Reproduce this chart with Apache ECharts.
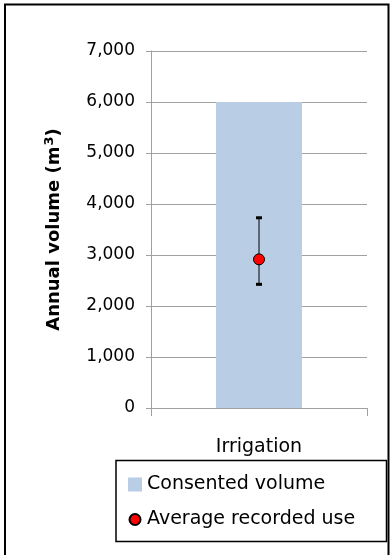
<!DOCTYPE html>
<html>
<head>
<meta charset="utf-8">
<script src="https://cdn.jsdelivr.net/npm/echarts@6/dist/echarts.min.js"></script>
<style>
html,body{margin:0;padding:0;background:#fff;}
#chart{width:392px;height:555px;}
</style>
</head>
<body>
<div id="chart"></div>
<script>
const categories = ['Irrigation'];
const consentedVolume = [6000];
const averageRecordedUse = [2915];
const recordedUseLow = [2425];
const recordedUseHigh = [3730];
const yTickValues = [0, 1000, 2000, 3000, 4000, 5000, 6000, 7000];
const yTickLabels = ['0', '1,000', '2,000', '3,000', '4,000', '5,000', '6,000', '7,000'];
const seriesNames = ['Consented volume', 'Average recorded use'];

const chart = echarts.init(document.getElementById('chart'), null, {renderer: 'canvas'});
const FONT = 'DejaVu Sans';

const errorData = categories.map((c, i) => [i, recordedUseLow[i], recordedUseHigh[i]]);

const option = {
  animation: false,
  backgroundColor: '#fff',
  textStyle: {fontFamily: FONT},
  grid: {left: 151, right: 25, top: 51, bottom: 147, containLabel: false},
  xAxis: {
    type: 'category',
    data: categories,
    axisLine: {show: true, lineStyle: {color: '#A0A0A0', width: 1}},
    axisTick: {show: true, length: 8, lineStyle: {color: '#A0A0A0'}},
    axisLabel: {fontSize: 19, color: '#000', margin: 30, fontFamily: FONT},
    splitLine: {show: false}
  },
  yAxis: {
    type: 'value',
    min: 0, max: 7000, interval: 1000,
    name: 'Annual volume (m{sup|3})',
    nameLocation: 'middle',
    nameRotate: 90,
    nameGap: 86,
    nameTextStyle: {
      fontSize: 18, fontWeight: 'bold', color: '#000', fontFamily: FONT,
      rich: {sup: {fontSize: 13, fontWeight: 'bold', verticalAlign: 'top', padding: [0, 0, 9, 1], fontFamily: FONT}}
    },
    axisLine: {show: true, lineStyle: {color: '#A0A0A0', width: 1}},
    axisTick: {show: true, length: 5, inside: false, lineStyle: {color: '#A0A0A0'}},
    axisLabel: {
      fontSize: 17, color: '#000', margin: 16, fontFamily: FONT,
      formatter: v => { const k = yTickValues.indexOf(v); return k >= 0 ? yTickLabels[k] : String(v); }
    },
    splitLine: {show: true, lineStyle: {color: '#A0A0A0', width: 1}}
  },
  legend: {
    orient: 'vertical',
    left: 127, top: 475,
    itemWidth: 14, itemHeight: 14,
    itemGap: 16,
    itemTextGap: 7,
    padding: 0,
    textStyle: {fontSize: 19, color: '#000', fontFamily: FONT},
    data: [
      {name: seriesNames[0], icon: 'rect'},
      {name: seriesNames[1], icon: 'path://M0,0M14,14M12.5,7A5.5,5.5 0 1,1 1.5,7A5.5,5.5 0 1,1 12.5,7Z'}
    ]
  },
  graphic: [
    {type: 'rect', shape: {x: 5, y: 4.5, width: 383.5, height: 620}, style: {fill: null, stroke: '#000', lineWidth: 2}, silent: true, z: 100},
    {type: 'rect', shape: {x: 116, y: 460.5, width: 270.5, height: 81}, style: {fill: null, stroke: '#000', lineWidth: 1.5}, silent: true, z: 100}
  ],
  series: [
    {
      name: seriesNames[0],
      type: 'bar',
      data: consentedVolume,
      barWidth: 86,
      itemStyle: {color: '#B9CDE5'},
      z: 2
    },
    {
      name: 'errorbar',
      type: 'custom',
      data: errorData,
      z: 3,
      renderItem: function (params, api) {
        const x = api.value(0);
        const lo = api.coord([x, api.value(1)]);
        const hi = api.coord([x, api.value(2)]);
        const capW = 6, capH = 3;
        return {
          type: 'group',
          children: [
            {type: 'line', shape: {x1: lo[0], y1: lo[1], x2: hi[0], y2: hi[1]}, style: {stroke: '#000', lineWidth: 1}},
            {type: 'rect', shape: {x: hi[0] - capW / 2, y: hi[1] - capH / 2, width: capW, height: capH}, style: {fill: '#000'}},
            {type: 'rect', shape: {x: lo[0] - capW / 2, y: lo[1] - capH / 2, width: capW, height: capH}, style: {fill: '#000'}}
          ]
        };
      }
    },
    {
      name: seriesNames[1],
      type: 'scatter',
      data: averageRecordedUse,
      symbol: 'circle',
      symbolSize: 11,
      itemStyle: {color: '#FF0000', borderColor: '#000', borderWidth: 1, opacity: 1},
      z: 4
    }
  ]
};
chart.setOption(option);
</script>
</body>
</html>
